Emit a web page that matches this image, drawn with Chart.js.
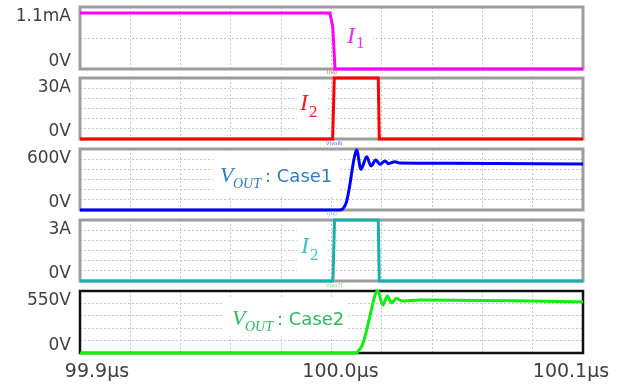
<!DOCTYPE html>
<html>
<head>
<meta charset="utf-8">
<script src="https://cdn.jsdelivr.net/npm/chart.js@4.4.1/dist/chart.umd.min.js"></script>
<style>
  html, body { margin: 0; padding: 0; background: #fff; }
  #wrap { position: relative; width: 625px; height: 385px; overflow: hidden; }
  #wrap canvas { position: absolute; left: 0; top: 0; }
</style>
</head>
<body>
<div id="wrap"></div>
<script>
// ---- shared time axis (µs) ----
const xTickValues = [99.9, 100.0, 100.1];
const xTickLabels = ['99.9µs', '100.0µs', '100.1µs'];

// ---- per-panel axis labels and ranges ----
const yTopLabels = ['1.1mA', '30A', '600V', '3A', '550V'];
const yZeroLabel = '0V';
const yMaxValues = [1.22, 30, 600, 3, 550];
const yGridSteps = [0.61, 5, 100, 0.5, 110];

// ---- I1 (mA) ----
const i1Times  = [99.9, 99.9993, 99.9998, 100.0005, 100.0014, 100.1];
const i1Values = [1.1, 1.1, 1.0, 0.83, 0, 0];

// ---- I2 pulse, case 1 (A) ----
const i2Case1Times  = [99.9, 100.0002, 100.0005, 100.0011, 100.0186, 100.0190, 100.1];
const i2Case1Values = [0, 0, 1.5, 30, 30, 0, 0];

// ---- VOUT, case 1 (V) ----
const vout1Times  = [99.9, 100.0034, 100.0047, 100.0060, 100.0074, 100.0084, 100.0093, 100.0100,
                     100.0117, 100.0140, 100.0157, 100.0176, 100.0193, 100.0213, 100.0226,
                     100.0252, 100.0272, 100.0471, 100.1];
const vout1Values = [0, 0, 17, 82, 262, 426, 541, 590,
                     400, 524, 433, 492, 449, 482, 456,
                     475, 462, 459, 452];

// ---- I2 pulse, case 2 (A) ----
const i2Case2Times  = [99.9, 100.0003, 100.0006, 100.0012, 100.0186, 100.0190, 100.1];
const i2Case2Values = [0, 0, 0.15, 3, 3, 0, 0];

// ---- VOUT, case 2 (V) ----
const vout2Times  = [99.9, 100.0100, 100.0107, 100.0120, 100.0133, 100.0146, 100.0160, 100.0173,
                     100.0184, 100.0204, 100.0222, 100.0239, 100.0259, 100.0279, 100.0352, 100.1];
const vout2Values = [0, 0, 20, 56, 145, 263, 396, 514,
                     550, 426, 506, 446, 485, 461, 470, 455];

function pts(ts, vs) { return ts.map((t, k) => ({ x: t, y: vs[k] })); }

// panel frames (page pixels)
const frames = [
  { top: 7,   bottom: 69  },
  { top: 78,  bottom: 139 },
  { top: 149, bottom: 210 },
  { top: 220, bottom: 281 },
  { top: 291, bottom: 353 }
];
const plotLeft = 80, plotRight = 583;
const W = 625, H = 385;

const SERIF_I = '"Liberation Serif", "DejaVu Serif", serif';
const SANS = '"DejaVu Sans", sans-serif';

const panels = [
  {
    data: pts(i1Times, i1Values), color: '#ff00ff', smooth: false,
    box: [337, 15, 36, 46],
    note: [
      { t: 'I', x: 347, y: 43, font: 'italic 24px ' + SERIF_I, c: '#f02cf0' },
      { t: '1', x: 356, y: 48, font: '17px ' + SERIF_I, c: '#f02cf0' }
    ],
    tag: null
  },
  {
    data: pts(i2Case1Times, i2Case1Values), color: '#ff0000', smooth: false,
    box: [297, 82, 29, 52],
    note: [
      { t: 'I', x: 300, y: 110, font: 'italic 24px ' + SERIF_I, c: '#ff1a1a' },
      { t: '2', x: 309, y: 117, font: '17px ' + SERIF_I, c: '#ff1a1a' }
    ],
    tag: { t: 'I(I4)', x: 327, y: 73, c: '#ee5555' }
  },
  {
    data: pts(vout1Times, vout1Values), color: '#0000ff', smooth: true,
    box: [213, 153, 127, 42],
    note: [
      { t: 'V', x: 220, y: 182, font: 'italic 22px ' + SERIF_I, c: '#2e7bc4' },
      { t: 'OUT', x: 233, y: 188, font: 'italic 14px ' + SERIF_I, c: '#2e7bc4' },
      { t: ': Case1', x: 265, y: 182, font: '18px ' + SANS, c: '#2e7bc4' }
    ],
    tag: { t: 'V(vo8)', x: 326, y: 144, c: '#5555ee' }
  },
  {
    data: pts(i2Case2Times, i2Case2Values), color: '#1aafaf', smooth: false,
    box: [297, 224, 29, 52],
    note: [
      { t: 'I', x: 301, y: 253, font: 'italic 24px ' + SERIF_I, c: '#3cc3c3' },
      { t: '2', x: 310, y: 260, font: '17px ' + SERIF_I, c: '#3cc3c3' }
    ],
    tag: { t: 'I(I2)', x: 327, y: 214, c: '#55c8c8' }
  },
  {
    data: pts(vout2Times, vout2Values), color: '#11ee11', smooth: true,
    box: [222, 298, 126, 38],
    note: [
      { t: 'V', x: 232, y: 325, font: 'italic 22px ' + SERIF_I, c: '#2dbb5d' },
      { t: 'OUT', x: 245, y: 331, font: 'italic 14px ' + SERIF_I, c: '#2dbb5d' },
      { t: ': Case2', x: 277, y: 325, font: '18px ' + SANS, c: '#2dbb5d' }
    ],
    tag: { t: 'V(vo7)', x: 326, y: 286, c: '#66dd66' }
  }
];

const wrap = document.getElementById('wrap');

panels.forEach((p, i) => {
  const canvas = document.createElement('canvas');
  canvas.width = W; canvas.height = H;
  wrap.appendChild(canvas);
  const isLast = i === panels.length - 1;

  const panelDecor = {
    id: 'panelDecor',
    beforeDatasetsDraw(chart) {
      const { ctx, chartArea: a } = chart;
      ctx.save();
      // white backing behind the annotation text
      ctx.fillStyle = '#ffffff';
      ctx.fillRect(p.box[0], p.box[1], p.box[2], p.box[3]);
      // panel frame
      ctx.strokeStyle = isLast ? '#111111' : '#9d9d9d';
      ctx.lineWidth = isLast ? 2.5 : 3;
      ctx.strokeRect(a.left, a.top, a.right - a.left, a.bottom - a.top);
      ctx.restore();
    },
    afterDraw(chart) {
      const { ctx, chartArea: a } = chart;
      const ys = chart.scales.y;
      ctx.save();
      // y labels: full-scale value and zero
      ctx.fillStyle = '#404040';
      ctx.font = '17px ' + SANS;
      ctx.textAlign = 'right';
      ctx.textBaseline = 'middle';
      ctx.fillText(yTopLabels[i], a.left - 9, ys.getPixelForValue(yMaxValues[i]) + 10);
      ctx.fillText(yZeroLabel, a.left - 9, ys.getPixelForValue(0) - 7);

      // trace annotation
      ctx.textAlign = 'left';
      ctx.textBaseline = 'alphabetic';
      p.note.forEach(n => {
        ctx.font = n.font;
        ctx.fillStyle = n.c;
        ctx.fillText(n.t, n.x, n.y);
      });

      // small probe tag above the panel
      if (p.tag) {
        ctx.font = '5px ' + SANS;
        ctx.fillStyle = p.tag.c;
        ctx.textBaseline = 'middle';
        ctx.fillText(p.tag.t, p.tag.x, p.tag.y);
      }

      // time labels under the last panel
      if (isLast) {
        const xs = chart.scales.x;
        const nudge = [17, 9, -12];
        ctx.font = '19px ' + SANS;
        ctx.fillStyle = '#404040';
        ctx.textAlign = 'center';
        ctx.textBaseline = 'middle';
        xTickValues.forEach((v, k) => {
          ctx.fillText(xTickLabels[k], xs.getPixelForValue(v) + nudge[k], a.bottom + 19);
        });
      }
      ctx.restore();
    }
  };

  new Chart(canvas, {
    type: 'line',
    data: {
      datasets: [{
        data: p.data,
        borderColor: p.color,
        borderWidth: 3,
        pointRadius: 0,
        fill: false,
        cubicInterpolationMode: p.smooth ? 'monotone' : 'default',
        tension: 0,
        clip: 6
      }]
    },
    options: {
      responsive: false,
      animation: false,
      devicePixelRatio: 1,
      events: [],
      layout: {
        padding: { left: 0, right: W - plotRight, top: frames[i].top, bottom: H - frames[i].bottom }
      },
      plugins: { legend: { display: false }, tooltip: { enabled: false } },
      scales: {
        x: {
          type: 'linear',
          min: xTickValues[0],
          max: xTickValues[xTickValues.length - 1],
          ticks: { display: false, stepSize: 0.02, maxTicksLimit: 30 },
          grid: { color: '#c6c6c6', lineWidth: 1, drawTicks: false },
          border: { display: false, dash: [2, 2] },
          afterFit(scale) { scale.height = 0; }
        },
        y: {
          type: 'linear',
          min: 0,
          max: yMaxValues[i],
          ticks: { display: false, stepSize: yGridSteps[i] },
          grid: { color: '#c6c6c6', lineWidth: 1, drawTicks: false },
          border: { display: false, dash: [2, 2] },
          afterFit(scale) { scale.width = plotLeft; }
        }
      }
    },
    plugins: [panelDecor]
  });
});
</script>
</body>
</html>
